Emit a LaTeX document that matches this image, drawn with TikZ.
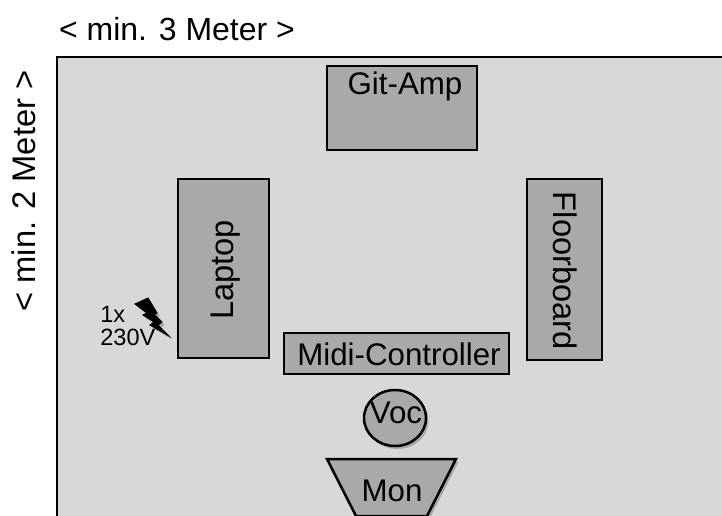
\documentclass[tikz,border=0pt]{standalone}
\usepackage{fontspec}
\setmainfont{Liberation Sans}
\usetikzlibrary{shadows}
\tikzset{
	gear/.style={draw=black, line width=0.05cm, fill=gearfill},
	softshadow/.style={drop shadow={shadow xshift=0.05cm, shadow yshift=-0.06cm, opacity=0.22, fill=black}},
	label/.style={font=\fontsize{17.8}{20}\selectfont, text=black, inner sep=0pt},
	turnedlabel/.style={label, font=\fontsize{18.6}{20}\selectfont},
	smalllabel/.style={font=\fontsize{13.4}{13.1}\selectfont, text=black, inner sep=0pt, align=left}
}
\definecolor{gearfill}{HTML}{A9A9A9}
\definecolor{stagefill}{HTML}{D8D8D8}
\begin{document}
\begin{tikzpicture}[x=0.02cm, y=-0.02cm]
		\useasboundingbox (0, 0) rectangle (722, 516);
		\clip (0, 0) rectangle (722, 516);

		% stage
		\draw[line width=0.05cm, fill=stagefill] (57, 57) rectangle (740, 540);

		% gear
		\draw[gear] (327, 66) rectangle (477, 150);
		\node[label] (gitamp) at (405, 86) {Git-Amp};

		\draw[gear] (178, 179) rectangle (269, 358);
		\node[turnedlabel, rotate=90] (laptop) at (226, 270) {Laptop};

		\draw[gear] (527, 179) rectangle (602, 360);
		\node[turnedlabel, rotate=-90] (floorboard) at (565, 271) {Floorboard};

		\draw[gear] (284, 333) rectangle (509, 374);
		\node[label] (midi) at (399, 354) {Midi-Controller};

		\draw[gear, softshadow] (395, 418) ellipse (31 and 28);
		\node[label] (voc) at (396, 413) {Voc};

		\draw[gear, softshadow] (327, 459) -- (456, 459) -- (427, 516) -- (356, 516) -- cycle;
		\node[label] (mon) at (392, 491) {Mon};

		% power
		\filldraw[black, line width=0.02cm, softshadow] (135, 304) -- (148, 298) -- (157, 313) -- (154, 314) -- (162, 322) -- (158, 325)
			-- (169, 336) -- (150, 325) -- (154, 322) -- (143, 315) -- (147, 313) -- cycle;
		\node[smalllabel, anchor=west] (power) at (100, 326) {1x\\230V};

		% size
		\node[label, font=\fontsize{18.2}{20}\selectfont] (width) at (177, 29) {< min. 3 Meter >};
		\node[turnedlabel, rotate=90] (height) at (24, 191) {< min. 2 Meter >};
	\end{tikzpicture}
\end{document}
